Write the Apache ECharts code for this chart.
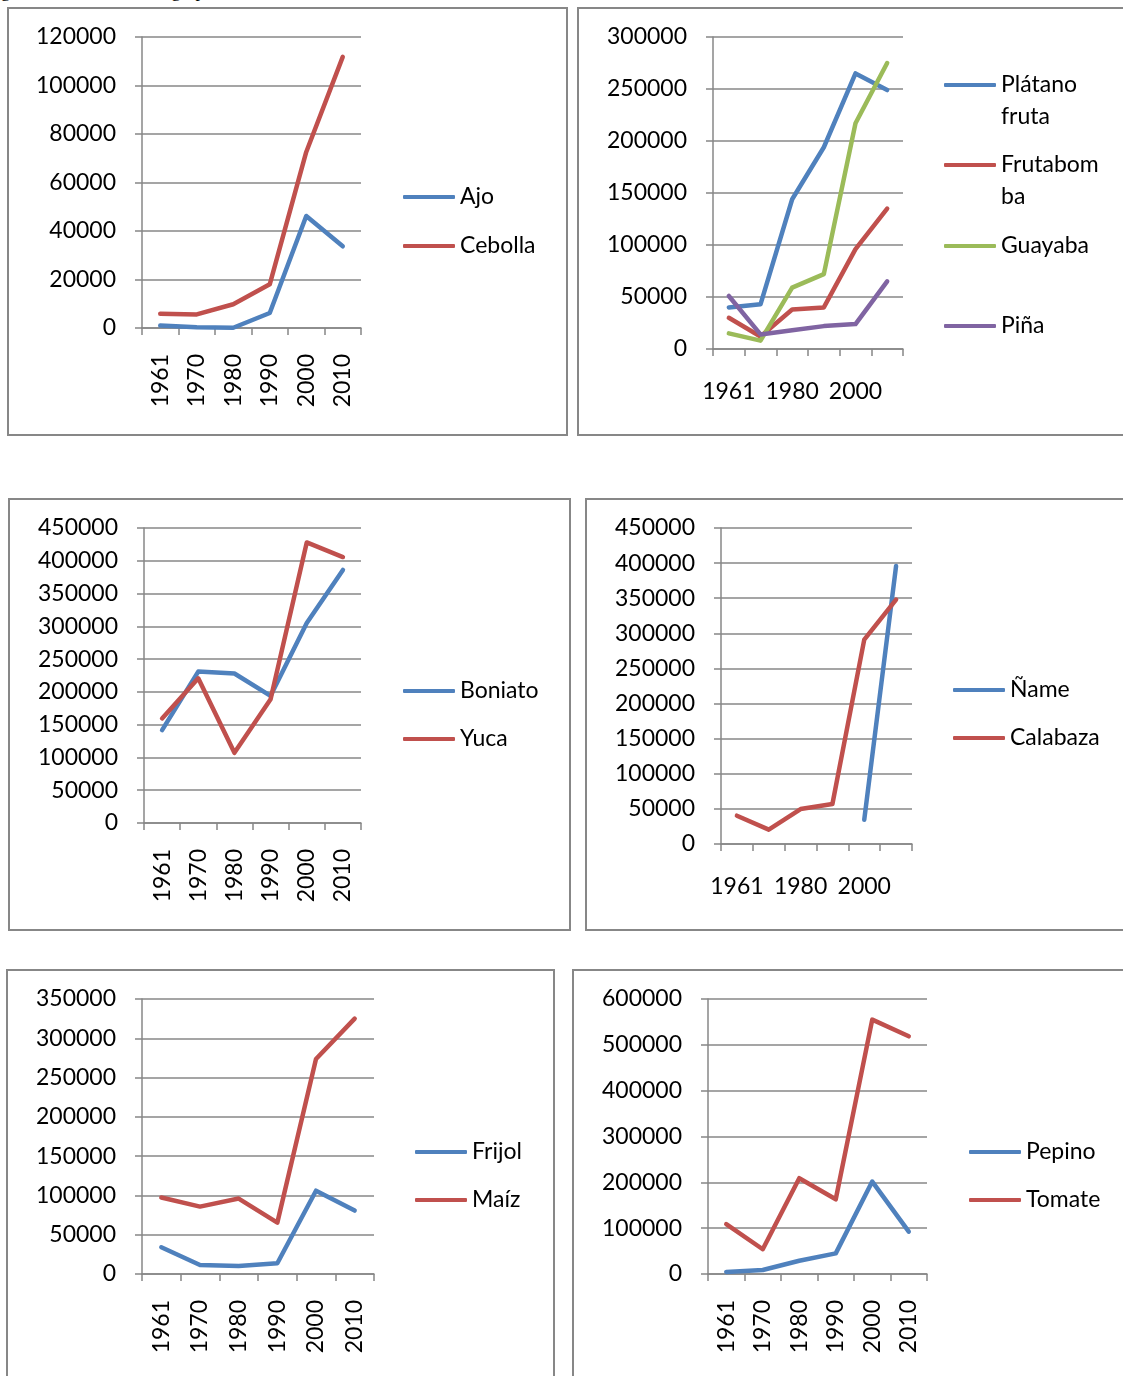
<!DOCTYPE html>
<html>
<head>
<meta charset="utf-8">
<script src="https://cdn.jsdelivr.net/npm/echarts@6/dist/echarts.min.js"></script>
<style>
body { margin: 0; background: #fff; overflow: hidden; }
#page { position: relative; width: 1123px; height: 1376px; overflow: hidden; }
.box { position: absolute; border: 2px solid #878787; box-sizing: border-box; }
#chart { position: absolute; left: 0; top: 0; width: 1123px; height: 1376px; }
.caption { position: absolute; left: -14px; top: -18px; font-size: 18px; line-height: 18px;
  font-family: "Liberation Serif", serif; white-space: nowrap; color: #000; }
</style>
</head>
<body>
<div id="page">
  <div class="caption">Figura 5. Producción de agropecuarias seleccionadas en Cuba durante las últimas décadas</div>
  <div class="box" style="left:7px;top:7px;width:561px;height:429px"></div>
  <div class="box" style="left:577px;top:7px;width:600px;height:429px"></div>
  <div class="box" style="left:8px;top:498px;width:563px;height:433px"></div>
  <div class="box" style="left:585px;top:498px;width:600px;height:433px"></div>
  <div class="box" style="left:6px;top:969px;width:549px;height:500px"></div>
  <div class="box" style="left:572px;top:969px;width:600px;height:500px"></div>
  <div id="chart"></div>
</div>
<script>
// datos (toneladas)
var years = ['1961', '1970', '1980', '1990', '2000', '2010'];

var ajo = [1000, 300, 100, 6200, 46200, 33700];
var cebolla = [5900, 5600, 9800, 18000, 72600, 111800];

var platano = [40000, 43000, 144000, 194000, 265000, 249000];
var frutabomba = [30000, 12000, 38000, 40000, 96000, 135000];
var guayaba = [15000, 8000, 59000, 72000, 217000, 275000];
var pina = [51000, 14000, 18000, 22000, 24000, 65000];

var boniato = [141700, 231000, 228000, 194000, 305000, 386000];
var yuca = [159500, 220700, 107000, 188600, 428000, 405700];

var nameSerie = [null, null, null, null, 34600, 396000];
var calabaza = [40300, 20400, 49800, 57000, 291000, 348000];

var frijol = [34000, 11500, 10200, 13600, 106000, 80700];
var maiz = [97300, 85800, 96000, 65400, 273600, 325000];

var pepino = [4400, 8700, 29000, 45000, 201700, 92500];
var tomate = [109000, 54000, 209000, 163000, 555000, 518600];

// leyendas partidas en dos lineas como en el original
// (la linea vacia delante deja el icono a la altura de la primera linea)
var legendText = { 'Plátano fruta': '\nPlátano\nfruta', 'Frutabomba': '\nFrutabom\nba' };

var colors = ['#4F81BD', '#C0504D', '#9BBB59', '#8064A2'];
var grey = '#878787';
var font = 'Lato';

var panels = [
  { box: [142, 37, 219, 291], max: 120000, step: 20000, rotate: true,
    series: [['Ajo', ajo], ['Cebolla', cebolla]], legendX: 403, legendY: [197, 246] },
  { box: [713, 37, 190, 312], max: 300000, step: 50000, rotate: false,
    series: [['Plátano fruta', platano], ['Frutabomba', frutabomba], ['Guayaba', guayaba], ['Piña', pina]],
    legendX: 944, legendY: [85, 165, 246, 326] },
  { box: [144, 528, 217, 295], max: 450000, step: 50000, rotate: true,
    series: [['Boniato', boniato], ['Yuca', yuca]], legendX: 403, legendY: [691, 739] },
  { box: [721, 528, 191, 316], max: 450000, step: 50000, rotate: false,
    series: [['Ñame', nameSerie], ['Calabaza', calabaza]], legendX: 953, legendY: [690, 738] },
  { box: [142, 999, 232, 275], max: 350000, step: 50000, rotate: true,
    series: [['Frijol', frijol], ['Maíz', maiz]], legendX: 415, legendY: [1152, 1200] },
  { box: [708, 999, 219, 275], max: 600000, step: 100000, rotate: true,
    series: [['Pepino', pepino], ['Tomate', tomate]], legendX: 969, legendY: [1152, 1200] }
];

var option = { animation: false, grid: [], xAxis: [], yAxis: [], series: [], legend: [] };

panels.forEach(function (p, i) {
  option.grid.push({ left: p.box[0], top: p.box[1], width: p.box[2], height: p.box[3], outerBoundsMode: 'none' });
  option.xAxis.push({
    type: 'category', gridIndex: i, data: years, boundaryGap: true,
    axisLine: { show: true, lineStyle: { color: grey, width: 1.5 } },
    axisTick: { show: true, length: 7, interval: 0, lineStyle: { color: grey, width: 1.5 } },
    axisLabel: { interval: p.rotate ? 0 : 1, rotate: p.rotate ? 90 : 0, margin: p.rotate ? 26 : 31,
      color: '#000', fontFamily: font, fontSize: 23 },
    splitLine: { show: false }
  });
  option.yAxis.push({
    type: 'value', gridIndex: i, min: 0, max: p.max, interval: p.step,
    axisLine: { show: true, lineStyle: { color: grey, width: 1.5 } },
    axisTick: { show: true, length: 7, lineStyle: { color: grey, width: 1.5 } },
    splitLine: { show: true, lineStyle: { color: grey, width: 1.5 } },
    axisLabel: { margin: 26, color: '#000', fontFamily: font, fontSize: 23,
      formatter: function (v) { return String(v); } }
  });
  p.series.forEach(function (s, j) {
    option.series.push({
      type: 'line', name: s[0], xAxisIndex: i, yAxisIndex: i, data: s[1],
      symbol: 'none', silent: true, connectNulls: false,
      itemStyle: { color: colors[j] },
      lineStyle: { width: 4.5, color: colors[j], cap: 'round', join: 'round' }
    });
    var twoLines = !!legendText[s[0]];
    option.legend.push({
      left: p.legendX, top: p.legendY[j] - (twoLines ? 48 : 16), padding: 0,
      selectedMode: false, icon: 'roundRect', itemWidth: 52, itemHeight: 4,
      itemStyle: { borderWidth: 0 },
      data: [s[0]],
      formatter: function (n) { return legendText[n] || n; },
      textStyle: { color: '#000', fontFamily: font, fontSize: 23, lineHeight: 32 }
    });
  });
});

var myChart = echarts.init(document.getElementById('chart'));
myChart.setOption(option);
window.onresize = myChart.resize;
</script>
</body>
</html>
